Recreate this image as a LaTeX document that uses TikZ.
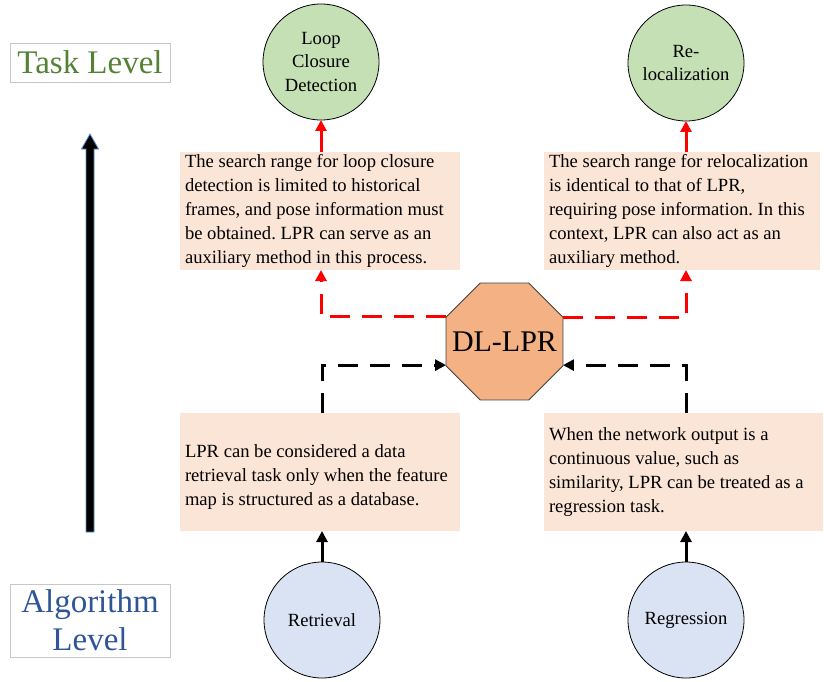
\documentclass[tikz,border=0pt]{standalone}
\usepackage{fontspec}
\setmainfont{Liberation Serif}
\usetikzlibrary{arrows.meta,shapes.geometric}

\definecolor{taskgreen}{HTML}{C5E0B4}
\definecolor{algoblue}{HTML}{DAE3F3}
\definecolor{notepeach}{HTML}{FBE5D6}
\definecolor{hubpeach}{HTML}{F4B183}
\definecolor{titlegreen}{HTML}{548235}
\definecolor{titleblue}{HTML}{2F5597}
\definecolor{flowred}{HTML}{FF0000}
\definecolor{axisedge}{HTML}{5B8FD0}

\frenchspacing

\begin{document}
\begin{tikzpicture}[x=1pt,y=-1pt,
  every node/.style={inner sep=0pt, outer sep=0pt},
  bodyfont/.style={font=\fontsize{18.6}{24}\selectfont},
  level/.style={circle, draw=black, line width=0.8pt, minimum size=116pt,
    align=center, font=\fontsize{18.6}{23.5}\selectfont},
  goal/.style={level, fill=taskgreen},
  method/.style={level, fill=algoblue},
  note/.style={rectangle, fill=notepeach, minimum height=118pt},
  notetext/.style={anchor=west, align=left, bodyfont},
  hub/.style={regular polygon, regular polygon sides=8, minimum size=126.6pt,
    draw=black!75, line width=0.8pt, fill=hubpeach},
  hubtext/.style={font=\fontsize{30}{34}\selectfont},
  title/.style={rectangle, draw=black!22, line width=0.9pt, minimum width=160pt,
    align=center, font=\fontsize{33}{38}\selectfont},
  tip/.style={-{Triangle[width=11pt,length=11pt]}},
  redsolid/.style={tip, draw=flowred, line width=3pt},
  reddash/.style={redsolid, dash pattern=on 20pt off 12pt},
  blacksolid/.style={tip, draw=black, line width=3pt},
  blackdash/.style={blacksolid, dash pattern=on 20pt off 12pt},
]
\useasboundingbox (0,0) rectangle (824,682);

% level titles and the upward block arrow between them
\node[title, minimum height=39pt, text=titlegreen] (task) at (90,62.5) {Task Level};
\node[title, minimum height=73pt, text=titleblue] (algo) at (90,620.5) {Algorithm\\Level};
\filldraw[fill=black, draw=axisedge, line width=0.8pt, line join=miter]
  (86,532) -- (86,149) -- (81.5,149) -- (90,134) -- (98.5,149) -- (94,149) -- (94,532) -- cycle;

% task-level goals
\node[goal] (lcd) at (321,62) {Loop\\Closure\\Detection};
\node[goal] (reloc) at (686,63) {Re-\\localization};

% algorithm-level methods
\node[method] (retr) at (322,620) {Retrieval};
\node[method] (regr) at (686,620) {Regression};

% explanatory notes
\node[note, minimum width=280pt] (tl) at (320,211) {};
\node[notetext] (tltext) at ([xshift=5pt]tl.west)
  {The search range for loop closure\\detection is limited to historical\\frames, and pose information must\\be obtained. LPR can serve as an\\auxiliary method in this process.};
\node[note, minimum width=276pt] (tr) at (682,211) {};
\node[notetext] (trtext) at ([xshift=5pt]tr.west)
  {The search range for relocalization\\is identical to that of LPR,\\requiring pose information. In this\\context, LPR can also act as an\\auxiliary method.};
\node[note, minimum width=280pt] (bl) at (320,472) {};
\node[notetext] (bltext) at ([xshift=5pt,yshift=-5pt]bl.west)
  {LPR can be considered a data\\retrieval task only when the feature\\map is structured as a database.};
\node[note, minimum width=279pt] (br) at (683.5,472) {};
\node[notetext] (brtext) at ([xshift=5pt]br.west)
  {When the network output is a\\continuous value, such as\\similarity, LPR can be treated as a\\regression task.};

% central method
\node[hub, label={[hubtext]center:DL-LPR}] (dl) at (504.5,341.5) {};

% DL-LPR towards the tasks
\draw[reddash] (dl.157.5) -| (tl.south -| lcd.south);
\draw[reddash] (dl.22.5) -| (tr.south -| reloc.south);
\draw[redsolid] (tl.north -| lcd.south) -- (lcd.south);
\draw[redsolid] (tr.north -| reloc.south) -- (reloc.south);

% methods feeding DL-LPR
\draw[blacksolid] (retr.north) -- (bl.south -| retr.north);
\draw[blacksolid] (regr.north) -- (br.south -| regr.north);
\draw[blackdash] (bl.north -| retr.north) |- (dl.202.5);
\draw[blackdash] (br.north -| regr.north) |- (dl.-22.5);
\end{tikzpicture}
\end{document}
